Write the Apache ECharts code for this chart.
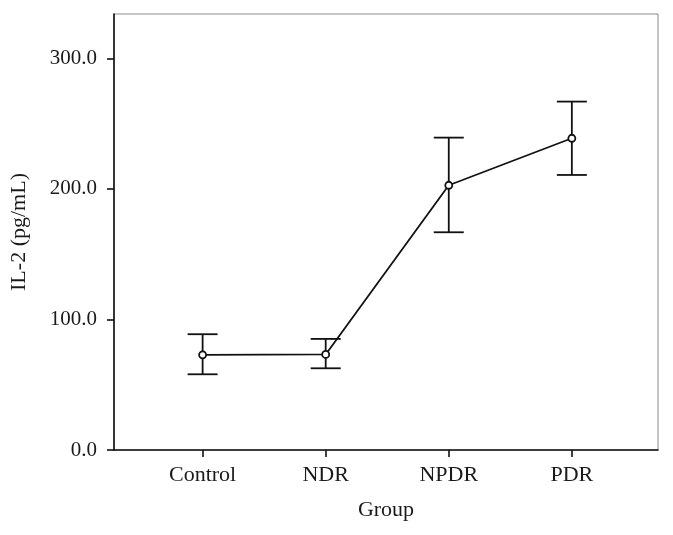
<!DOCTYPE html>
<html>
<head>
<meta charset="utf-8">
<script src="https://cdn.jsdelivr.net/npm/echarts@6/dist/echarts.min.js"></script>
<style>
html,body{margin:0;padding:0;background:#fff;}
#chart{width:673px;height:535px;}
</style>
</head>
<body>
<div id="chart"></div>
<script>
var categories = ['Control', 'NDR', 'NPDR', 'PDR'];
var means = [72.9, 73.2, 202.8, 238.8];
var upper = [88.7, 85.1, 239.3, 266.9];
var lower = [58.0, 62.6, 166.8, 210.7];
var yTicks = [0, 100, 200, 300];

var FONT = 'Liberation Serif';
var chart = echarts.init(document.getElementById('chart'), null, {renderer: 'canvas'});

var lineData = means.map(function (v, i) { return [i, v]; });
var errData = means.map(function (v, i) { return [i, lower[i], upper[i]]; });
var catIdx = categories.map(function (c, i) { return i; });

var option = {
  animation: false,
  backgroundColor: '#fff',
  grid: {
    left: 113, right: 15, top: 14, bottom: 85,
    show: true, borderColor: '#8a8a8a', borderWidth: 1, backgroundColor: 'transparent'
  },
  xAxis: {
    type: 'value',
    min: -0.72, max: 3.70,
    name: 'Group',
    nameLocation: 'middle',
    nameGap: 49,
    nameTextStyle: {fontFamily: FONT, fontSize: 22, color: '#1a1a1a'},
    axisLine: {show: true, onZero: false, lineStyle: {color: '#111', width: 1.6}},
    axisTick: {show: true, customValues: catIdx, length: 7, lineStyle: {color: '#111', width: 1.6}},
    axisLabel: {
      customValues: catIdx, margin: 14,
      fontFamily: FONT, fontSize: 22, color: '#1a1a1a',
      formatter: function (v) { return categories[Math.round(v)]; }
    },
    splitLine: {show: false}
  },
  yAxis: {
    type: 'value',
    min: 0, max: 334,
    name: 'IL-2 (pg/mL)',
    nameLocation: 'middle',
    nameGap: 84,
    nameTextStyle: {fontFamily: FONT, fontSize: 22, color: '#1a1a1a'},
    axisLine: {show: true, onZero: false, lineStyle: {color: '#111', width: 1.6}},
    axisTick: {show: true, customValues: yTicks, length: 7, lineStyle: {color: '#111', width: 1.6}},
    axisLabel: {
      customValues: yTicks, margin: 17,
      fontFamily: FONT, fontSize: 21, color: '#1a1a1a',
      formatter: function (v) { return v.toFixed(1); }
    },
    splitLine: {show: false}
  },
  series: [
    {
      type: 'custom',
      data: errData,
      z: 3,
      renderItem: function (params, api) {
        var x = api.value(0);
        var lo = api.coord([x, api.value(1)]);
        var hi = api.coord([x, api.value(2)]);
        var hw = 15;
        var st = {stroke: '#111', lineWidth: 1.8, fill: null};
        return {
          type: 'group',
          children: [
            {type: 'line', shape: {x1: hi[0], y1: hi[1], x2: lo[0], y2: lo[1]}, style: st},
            {type: 'line', shape: {x1: hi[0] - hw, y1: hi[1], x2: hi[0] + hw, y2: hi[1]}, style: st},
            {type: 'line', shape: {x1: lo[0] - hw, y1: lo[1], x2: lo[0] + hw, y2: lo[1]}, style: st}
          ]
        };
      }
    },
    {
      type: 'line',
      data: lineData,
      z: 4,
      symbol: 'circle',
      symbolSize: 7,
      lineStyle: {color: '#111', width: 1.8},
      itemStyle: {color: '#fff', borderColor: '#111', borderWidth: 1.8}
    }
  ]
};
chart.setOption(option);
</script>
</body>
</html>
